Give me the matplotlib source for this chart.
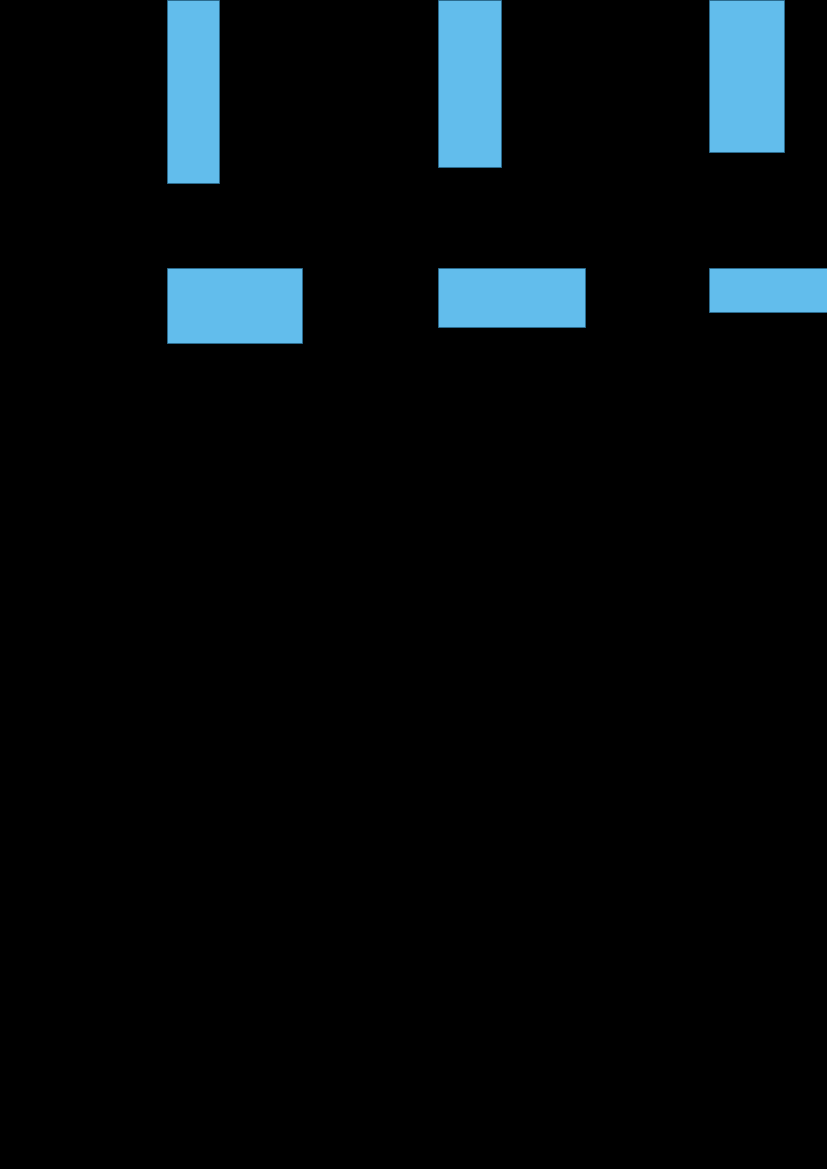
import matplotlib.pyplot as plt

# three groups, each with a hanging vertical bar and a horizontal bar below
group_left = [167, 438, 709]

vert_length = [183, 167, 152]
vert_width = [52, 63, 75]

horiz_top = 268
horiz_length = [135, 147, 160]
horiz_thick = [75, 59, 44]

bar_color = '#62bdec'
edge_color = '#2b6e93'

fig = plt.figure(figsize=(8.27, 11.69), dpi=100, facecolor='black')
ax = fig.add_axes([0, 0, 1, 1])
ax.set_facecolor('black')

ax.bar(group_left, vert_length, width=vert_width, bottom=0, align='edge',
       color=bar_color, edgecolor=edge_color, linewidth=0.6)
ax.barh([horiz_top] * 3, horiz_length, height=horiz_thick, left=group_left,
        align='edge', color=bar_color, edgecolor=edge_color, linewidth=0.6)

ax.set_xlim(0, 827)
ax.set_ylim(1169, 0)
ax.axis('off')

fig.savefig('out.png', dpi=100, facecolor='black')
